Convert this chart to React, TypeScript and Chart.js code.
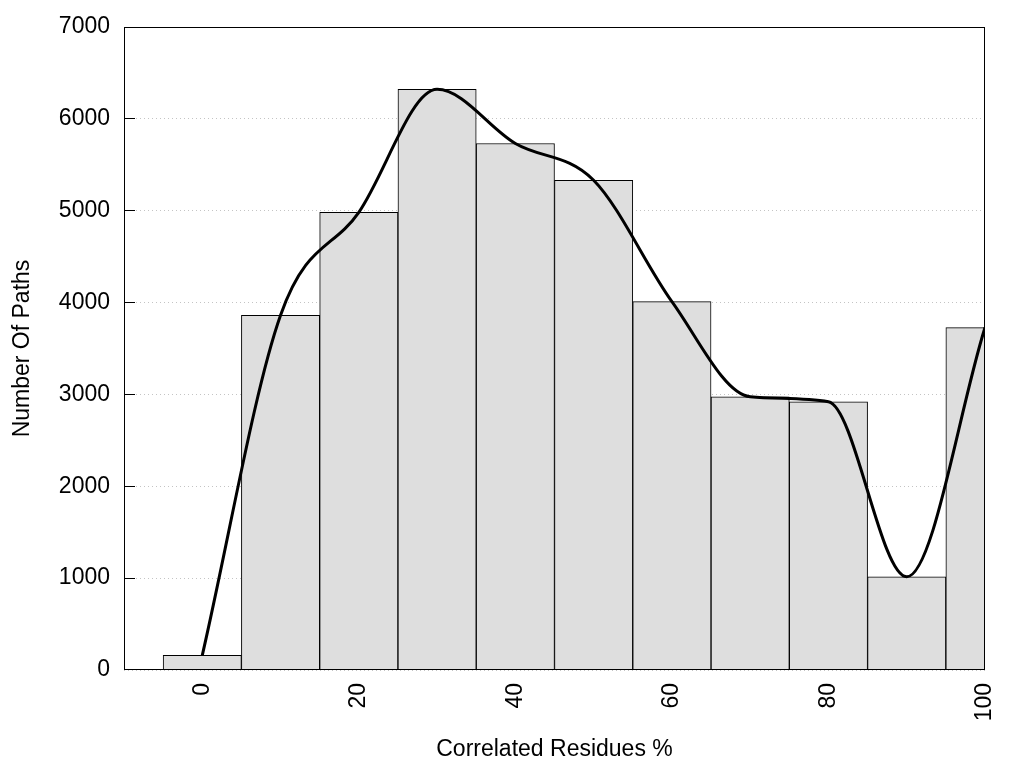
import React, { useEffect, useRef } from "react";
import { Chart, registerables } from "chart.js";

Chart.register(...registerables);

const binCenters = [0, 10, 20, 30, 40, 50, 60, 70, 80, 90, 100];
const pathCounts = [160, 3862, 4983, 6321, 5732, 5332, 4011, 2975, 2920, 1015, 3728];
const curveCounts = [160, 3862, 4983, 6321, 5732, 5332, 4011, 2975, 2920, 1015, 3728];
const xTickValues = [0, 20, 40, 60, 80, 100];
const xTitle = "Correlated Residues %";
const yTitle = "Number Of Paths";

const FONT = "'Liberation Sans', Arial, sans-serif";

const framePlugin = {
  id: "frameAndTicks",
  afterDatasetsDraw(chart: any) {
    const { ctx, chartArea } = chart;
    const { left, right, top, bottom } = chartArea;
    const y = chart.scales.y;
    ctx.save();
    ctx.strokeStyle = "#000";
    ctx.lineWidth = 1;
    ctx.setLineDash([]);
    ctx.beginPath();
    y.ticks.forEach((t: any) => {
      if (t.value <= y.min || t.value >= y.max) return;
      const py = Math.round(y.getPixelForValue(t.value) - 0.5) + 0.5;
      ctx.moveTo(left, py);
      ctx.lineTo(left + 11, py);
    });
    ctx.stroke();
    ctx.strokeRect(left + 0.5, top + 0.5, right - left - 1, bottom - top - 1);
    ctx.restore();
  },
};

export default function App() {
  const ref = useRef<HTMLCanvasElement | null>(null);
  useEffect(() => {
    if (!ref.current) return;
    const chart = new Chart(ref.current, {
      type: "bar",
      data: {
        datasets: [
          {
            type: "line",
            data: binCenters.map((x, i) => ({ x, y: curveCounts[i] })),
            borderColor: "#000",
            borderWidth: 3,
            pointRadius: 0,
            cubicInterpolationMode: "monotone",
            fill: false,
            order: 0,
          } as any,
          {
            type: "bar",
            data: binCenters.map((x, i) => ({ x, y: pathCounts[i] })),
            backgroundColor: "#dedede",
            borderColor: "#000",
            borderWidth: 1,
            barPercentage: 1,
            categoryPercentage: 1,
            clip: 0,
            order: 1,
          } as any,
        ],
      },
      options: {
        animation: false,
        responsive: true,
        maintainAspectRatio: false,
        layout: { padding: { left: 0, top: 27, right: 39, bottom: 0 } },
        plugins: { legend: { display: false }, tooltip: { enabled: false } },
        scales: {
          x: {
            type: "linear",
            offset: false,
            min: -10,
            max: 100,
            afterBuildTicks: (s: any) => {
              s.ticks = xTickValues.map((v) => ({ value: v }));
            },
            afterFit: (s: any) => {
              s.height = 98;
              s.paddingLeft = 0;
              s.paddingRight = 0;
            },
            grid: { display: false, drawTicks: false, offset: false },
            border: { display: false },
            ticks: {
              autoSkip: false,
              minRotation: 90,
              maxRotation: 90,
              padding: 13,
              color: "#000",
              font: { family: FONT, size: 23 },
              callback: (v: any) => String(v),
            },
            title: {
              display: true,
              text: xTitle,
              color: "#000",
              font: { family: FONT, size: 23 },
              padding: { top: 0, bottom: 5 },
            },
          },
          y: {
            type: "linear",
            min: 0,
            max: 7000,
            afterFit: (s: any) => {
              s.width = 124;
              s.paddingTop = 0;
              s.paddingBottom = 0;
            },
            grid: { color: "#c4c4c4", lineWidth: 1, drawTicks: false },
            border: { display: false, dash: [1, 3] },
            ticks: {
              stepSize: 1000,
              padding: 14,
              color: "#000",
              font: { family: FONT, size: 23 },
              callback: (v: any) => String(v),
            },
            title: {
              display: true,
              text: yTitle,
              color: "#000",
              font: { family: FONT, size: 23 },
              padding: { top: 9, bottom: 0 },
            },
          },
        },
      },
      plugins: [framePlugin],
    } as any);
    return () => chart.destroy();
  }, []);
  return (
    <div style={{ position: "absolute", left: 0, top: 0, width: 1024, height: 768, background: "#fff" }}>
      <canvas ref={ref} />
    </div>
  );
}
